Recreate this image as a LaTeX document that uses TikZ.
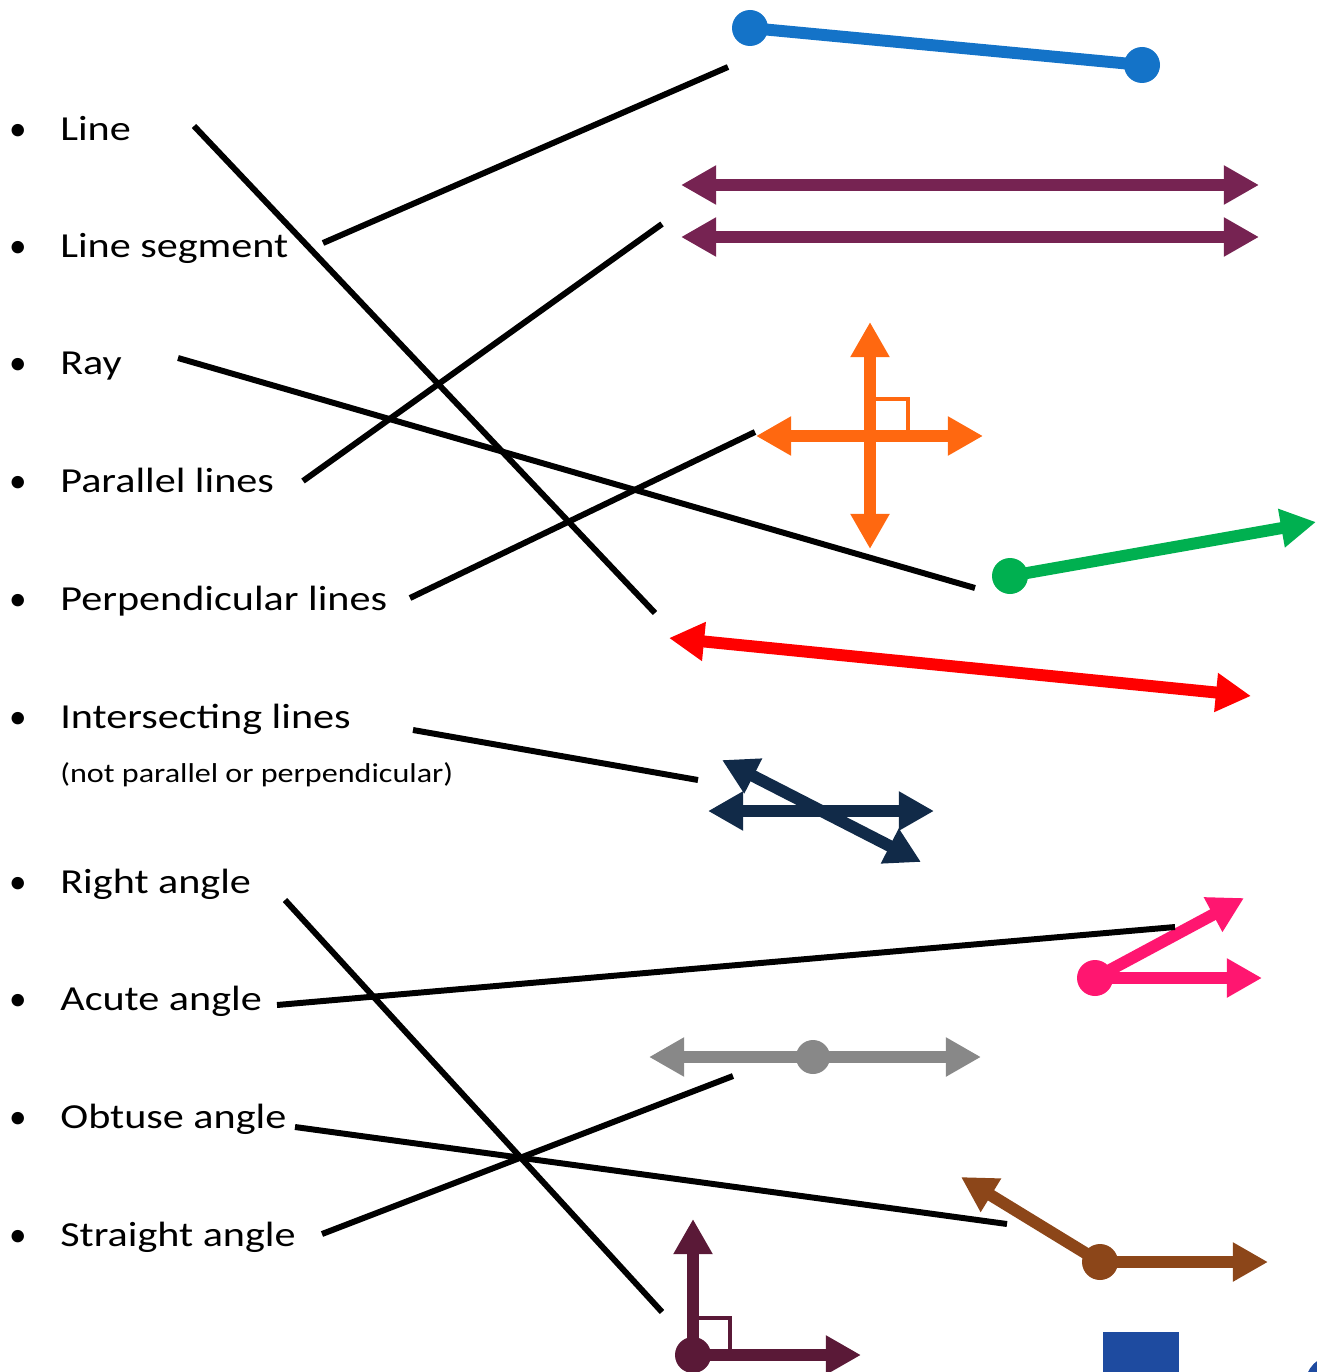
\documentclass[tikz,border=0pt]{standalone}
\usepackage{fontspec}
\setmainfont{Carlito}
\usetikzlibrary{arrows.meta}
\definecolor{segblue}{RGB}{20,115,200}
\definecolor{parpurple}{RGB}{118,35,82}
\definecolor{perporange}{RGB}{255,104,16}
\definecolor{raygreen}{RGB}{0,176,80}
\definecolor{linered}{RGB}{255,0,0}
\definecolor{intnavy}{RGB}{17,42,72}
\definecolor{acutepink}{RGB}{255,22,112}
\definecolor{strgray}{RGB}{136,136,136}
\definecolor{obtbrown}{RGB}{140,70,25}
\definecolor{rtmaroon}{RGB}{90,25,55}
\definecolor{sqblue}{RGB}{30,75,160}
\begin{document}
\begin{tikzpicture}[x=0.02cm,y=-0.02cm,
  lbl/.style={anchor=base west, inner sep=0pt, font=\fontsize{20}{24}\selectfont},
  sublbl/.style={anchor=base west, inner sep=0pt, font=\fontsize{15.5}{18}\selectfont},
  bul/.style={anchor=base, inner sep=0pt, font=\fontsize{20}{24}\selectfont},
  conn/.style={draw=black, line width=3.4pt, line cap=butt},
  fig/.style={line width=6.8pt},
  figthin/.style={line width=2.3pt},
  tip/.style={-{Triangle[length=20pt,width=21pt]}},
  tips/.style={{Triangle[length=20pt,width=21pt]}-{Triangle[length=20pt,width=21pt]}},
]
\useasboundingbox (0,0) rectangle (1317,1372);

% ---- labels ----
\foreach \n/\y in {bLine/140,bSeg/257,bRay/374,bPar/492,bPerp/610,bInt/728,bRight/893,bAcute/1010,bObt/1128,bStr/1246}
  \node[bul] (\n) at (18,\y) {•};
\node[lbl] (tLine)  at (60,140)  {\scalebox{1.2}[1]{Line}};
\node[lbl] (tSeg)   at (60,257)  {\scalebox{1.2}[1]{Line segment}};
\node[lbl] (tRay)   at (60,374)  {\scalebox{1.2}[1]{Ray}};
\node[lbl] (tPar)   at (60,492)  {\scalebox{1.2}[1]{Parallel lines}};
\node[lbl] (tPerp)  at (60,610)  {\scalebox{1.2}[1]{Perpendicular lines}};
\node[lbl] (tInt)   at (60,728)  {\scalebox{1.2}[1]{Intersecting lines}};
\node[sublbl] (tIntS) at (60,782) {\scalebox{1.18}[1]{(not parallel or perpendicular)}};
\node[lbl] (tRight) at (60,893)  {\scalebox{1.2}[1]{Right angle}};
\node[lbl] (tAcute) at (60,1010) {\scalebox{1.2}[1]{Acute angle}};
\node[lbl] (tObt)   at (60,1128) {\scalebox{1.2}[1]{Obtuse angle}};
\node[lbl] (tStr)   at (60,1246) {\scalebox{1.2}[1]{Straight angle}};

% ---- connector end points ----
\coordinate (aLine)  at (194,126);  \coordinate (zLine)  at (655,613);
\coordinate (aSeg)   at (323,243);  \coordinate (zSeg)   at (728,67);
\coordinate (aRay)   at (178,358);  \coordinate (zRay)   at (975,588);
\coordinate (aPar)   at (303,481);  \coordinate (zPar)   at (662,224);
\coordinate (aPerp)  at (410,598);  \coordinate (zPerp)  at (755,432);
\coordinate (aInt)   at (413,730);  \coordinate (zInt)   at (698,780);
\coordinate (aRight) at (285,900);  \coordinate (zRight) at (662,1312);
\coordinate (aAcute) at (277,1005); \coordinate (zAcute) at (1175,927);
\coordinate (aObt)   at (295,1127); \coordinate (zObt)   at (1007,1224);
\coordinate (aStr)   at (322,1234); \coordinate (zStr)   at (733,1076);

% ---- figures ----
% line segment
\coordinate (s1) at (750,28); \coordinate (s2) at (1142,65);
\draw[segblue, fig] (s1) -- (s2);
\fill[segblue] (s1) circle (18) (s2) circle (18);

% parallel lines
\coordinate (p1a) at (681,185); \coordinate (p1b) at (1259,185);
\coordinate (p2a) at (681,237); \coordinate (p2b) at (1259,237);
\draw[parpurple, fig, tips] (p1a) -- (p1b);
\draw[parpurple, fig, tips] (p2a) -- (p2b);

% perpendicular lines
\coordinate (q1) at (870,322); \coordinate (q2) at (870,549);
\coordinate (q3) at (756,436); \coordinate (q4) at (983,436);
\draw[perporange, fig, tips] (q1) -- (q2);
\draw[perporange, fig, tips] (q3) -- (q4);
\coordinate (qs1) at (872,399); \coordinate (qs2) at (908,434);
\draw[perporange, figthin] (qs1) -| (qs2);

% ray
\coordinate (r1) at (1010,576); \coordinate (r2) at (1316,522);
\draw[raygreen, fig, tip] (r1) -- (r2);
\fill[raygreen] (r1) circle (18);

% line
\coordinate (l1) at (669,638); \coordinate (l2) at (1251,696);
\draw[linered, fig, tips] (l1) -- (l2);

% intersecting lines
\coordinate (i1) at (708,811); \coordinate (i2) at (934,811);
\coordinate (i3) at (722,760); \coordinate (i4) at (921,862);
\draw[intnavy, fig, tips] (i1) -- (i2);
\draw[intnavy, fig, tips] (i3) -- (i4);

% acute angle
\coordinate (c0) at (1095,978); \coordinate (c1) at (1262,978); \coordinate (c2) at (1244,898);
\draw[acutepink, fig, tip] (c0) -- (c1);
\draw[acutepink, fig, tip] (c0) -- (c2);
\fill[acutepink] (c0) circle (18);

% straight angle
\coordinate (g0) at (813,1057); \coordinate (g1) at (649,1057); \coordinate (g2) at (981,1057);
\draw[strgray, fig, tip] (g0) -- (g1);
\draw[strgray, fig, tip] (g0) -- (g2);
\fill[strgray] (g0) circle (17);

% obtuse angle
\coordinate (o0) at (1100,1262); \coordinate (o1) at (1268,1262); \coordinate (o2) at (961,1177);
\draw[obtbrown, fig, tip] (o0) -- (o1);
\draw[obtbrown, fig, tip] (o0) -- (o2);
\fill[obtbrown] (o0) circle (18);

% right angle
\coordinate (m0) at (693,1355); \coordinate (m1) at (693,1219); \coordinate (m2) at (861,1355);
\draw[rtmaroon, fig, tip] (m0) -- (m1);
\draw[rtmaroon, fig, tip] (m0) -- (m2);
\fill[rtmaroon] (m0) circle (18);
\coordinate (ms1) at (695,1318); \coordinate (ms2) at (730,1353);
\draw[rtmaroon, figthin] (ms1) -| (ms2);

% partial shapes at bottom edge
\fill[sqblue] (1103,1332) rectangle (1179,1380);
\fill[sqblue] (1335,1385) circle (30);

% ---- connectors ----
\draw[conn] (aLine) -- (zLine);
\draw[conn] (aSeg) -- (zSeg);
\draw[conn] (aRay) -- (zRay);
\draw[conn] (aPar) -- (zPar);
\draw[conn] (aPerp) -- (zPerp);
\draw[conn] (aInt) -- (zInt);
\draw[conn] (aRight) -- (zRight);
\draw[conn] (aAcute) -- (zAcute);
\draw[conn] (aObt) -- (zObt);
\draw[conn] (aStr) -- (zStr);
\end{tikzpicture}
\end{document}
